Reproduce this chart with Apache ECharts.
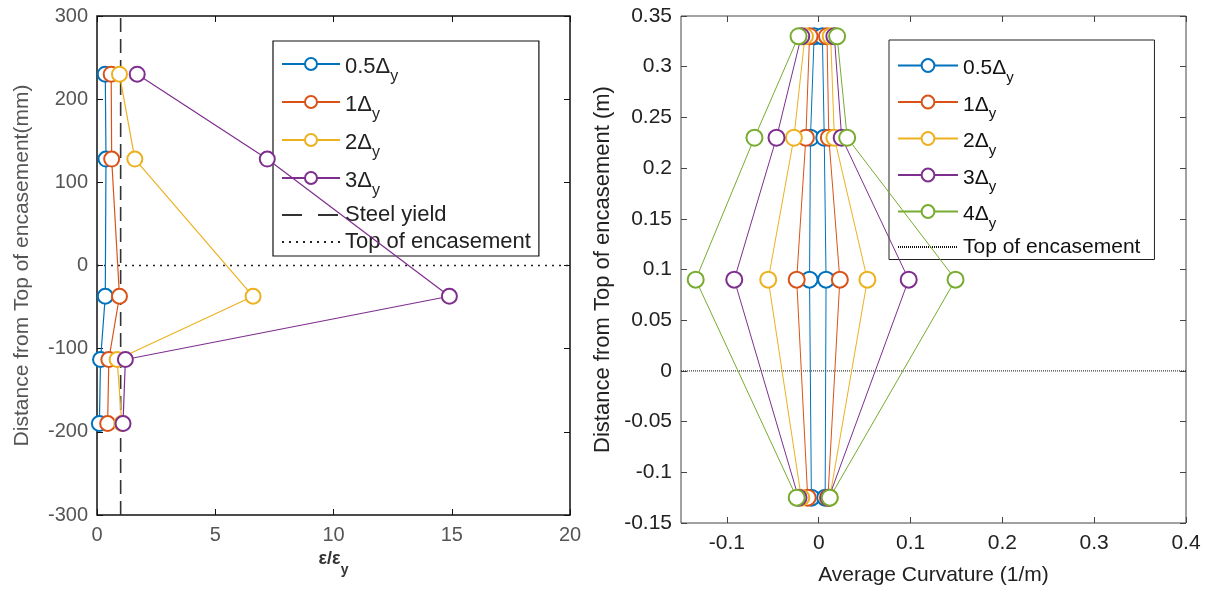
<!DOCTYPE html>
<html>
<head>
<meta charset="utf-8">
<script src="https://cdn.jsdelivr.net/npm/echarts@6/dist/echarts.min.js"></script>
<style>
html,body{margin:0;padding:0;background:#fff;}
#c{width:1205px;height:592px;}
</style>
</head>
<body>
<div id="c"></div>
<script>
// ---------- Left panel data (strain ratio vs depth, mm) ----------
var strainDepth = [230, 128, -37, -113, -190];
var strain05 = [0.35, 0.38, 0.35, 0.15, 0.10];
var strain1  = [0.60, 0.62, 0.95, 0.50, 0.45];
var strain2  = [0.95, 1.60, 6.60, 0.85, 1.05];
var strain3  = [1.70, 7.20, 14.90, 1.20, 1.10];
var leftNames = ['0.5Δy', '1Δy', '2Δy', '3Δy'];
var steelYieldX = 1;
var leftYRange = [-300, 300];
var leftXRange = [0, 20];

// ---------- Right panel data (curvature vs depth, m) ----------
var curvDepth = [0.33, 0.23, 0.09, -0.125];
var c05L = [-0.005, -0.009, -0.010, -0.008], c05R = [0.004, 0.006, 0.008, 0.007];
var c1L  = [-0.010, -0.014, -0.024, -0.012], c1R  = [0.009, 0.011, 0.023, 0.010];
var c2L  = [-0.015, -0.027, -0.055, -0.019], c2R  = [0.013, 0.017, 0.053, 0.012];
var c3L  = [-0.019, -0.046, -0.092, -0.022], c3R  = [0.017, 0.025, 0.098, 0.011];
var c4L  = [-0.022, -0.070, -0.134, -0.024], c4R  = [0.020, 0.031, 0.149, 0.012];
var rightNames = ['0.5Δy', '1Δy', '2Δy', '3Δy', '4Δy'];
var rightXRange = [-0.15, 0.4];
var rightYRange = [-0.15, 0.35];
var rightXTicks = [-0.1, 0, 0.1, 0.2, 0.3, 0.4];
var topLabel = 'Top of encasement';

var colors = ['#0072BD', '#D95319', '#EDB120', '#7E2F8E', '#77AC30'];

function zip(xs, ys) { return xs.map(function (x, i) { return [x, ys[i]]; }); }

var chart = echarts.init(document.getElementById('c'));

var FONT = 'Liberation Sans';
function legendFmt(name) {
  var n = name.replace(/\s+$/, '');
  if (n.slice(-2) === 'Δy') return '{a|' + n.slice(0, -1) + '}{s|y}';
  return '{b|' + n + '}';
}
function legendRich(fs, col) {
  return {
    a: {fontSize: fs, fontFamily: FONT, color: col, lineHeight: fs + 2, padding: [4, 0, 0, 0], verticalAlign: 'top'},
    s: {fontSize: Math.round(fs * 0.72), fontFamily: FONT, color: col, lineHeight: Math.round(fs * 0.75), padding: [Math.round(fs * 0.78), 0, 0, 0], verticalAlign: 'top'},
    b: {fontSize: fs, fontFamily: FONT, color: col, lineHeight: fs + 2}
  };
}

var series = [];
var leftData = [strain05, strain1, strain2, strain3];
leftData.forEach(function (arr, i) {
  series.push({
    type: 'line', name: leftNames[i], xAxisIndex: 0, yAxisIndex: 0,
    data: zip(arr, strainDepth), symbol: 'emptyCircle', symbolSize: 15,
    lineStyle: {color: colors[i], width: 1.2}, itemStyle: {color: colors[i], borderWidth: 1.2},
    color: colors[i], z: 3 + i
  });
});
series.push({
  type: 'line', name: 'Steel yield', xAxisIndex: 0, yAxisIndex: 0,
  data: [[steelYieldX, leftYRange[0]], [steelYieldX, leftYRange[1]]], symbol: 'none',
  lineStyle: {color: '#333', width: 1.6, type: [14, 7]}, color: '#333', z: 2
});
series.push({
  type: 'line', name: topLabel, xAxisIndex: 0, yAxisIndex: 0,
  data: [[leftXRange[0], 0], [leftXRange[1], 0]], symbol: 'none',
  lineStyle: {color: '#222', width: 1.4, type: [2, 5]}, color: '#222', z: 2
});

var rightL = [c05L, c1L, c2L, c3L, c4L];
var rightR = [c05R, c1R, c2R, c3R, c4R];
rightNames.forEach(function (nm, i) {
  [rightL[i], rightR[i]].forEach(function (arr) {
    series.push({
      type: 'line', name: nm + ' ', xAxisIndex: 2, yAxisIndex: 2,
      data: zip(arr, curvDepth), symbol: 'emptyCircle', symbolSize: 16,
      lineStyle: {color: colors[i], width: 1}, itemStyle: {color: colors[i], borderWidth: 1},
      color: colors[i], z: 3 + i
    });
  });
});
series.push({
  type: 'line', name: topLabel + ' ', xAxisIndex: 2, yAxisIndex: 2,
  data: [[rightXRange[0], 0], [rightXRange[1], 0]], symbol: 'none',
  lineStyle: {color: '#111', width: 1, type: [1, 1]}, color: '#111', z: 2
});

var tickL = {inside: true, length: 6, lineStyle: {color: '#111', width: 1}};
var tickR = {inside: true, length: 6, lineStyle: {color: '#444', width: 1}};
var noLine = {show: false, onZero: false};
var hideSym = {opacity: 0};

var option = {
  animation: false,
  backgroundColor: '#fff',
  grid: [
    {left: 97, right: 635, top: 16, bottom: 77, show: true, borderColor: '#111', borderWidth: 1.5, backgroundColor: 'transparent'},
    {left: 681, right: 19, top: 16, bottom: 69, show: true, borderColor: '#444', borderWidth: 1, backgroundColor: 'transparent'}
  ],
  legend: [
    {
      data: leftNames.concat([
        {name: 'Steel yield', itemStyle: hideSym, lineStyle: {type: [20, 16]}},
        {name: topLabel, itemStyle: hideSym}
      ]),
      orient: 'vertical', left: 273, top: 41, padding: [11, 8, 3, 8],
      itemWidth: 58, itemHeight: 15, itemGap: 5,
      backgroundColor: '#fff', borderColor: '#111', borderWidth: 1.2,
      formatter: legendFmt, textStyle: {rich: legendRich(22, '#222'), fontFamily: FONT, fontSize: 22}
    },
    {
      data: rightNames.map(function (n) { return n + ' '; }).concat([{name: topLabel + ' ', itemStyle: hideSym}]),
      orient: 'vertical', left: 889, top: 40, padding: [14, 14, 2, 8],
      itemWidth: 60, itemHeight: 16, itemGap: 5.5,
      backgroundColor: '#fff', borderColor: '#222', borderWidth: 1,
      formatter: legendFmt, textStyle: {rich: legendRich(21, '#111'), fontFamily: FONT, fontSize: 21}
    }
  ],
  xAxis: [
    {
      type: 'value', gridIndex: 0, min: leftXRange[0], max: leftXRange[1], interval: 5, position: 'bottom',
      axisLine: noLine, axisTick: tickL, splitLine: {show: false},
      axisLabel: {fontFamily: FONT, fontSize: 20, color: '#555', margin: 10},
      name: '{e|ε/ε}{s|y}', nameLocation: 'middle', nameGap: 22,
      nameTextStyle: {rich: {
        e: {fontFamily: FONT, fontSize: 18, fontWeight: 'bold', color: '#333', verticalAlign: 'top', lineHeight: 19},
        s: {fontFamily: FONT, fontSize: 14, fontWeight: 'bold', color: '#333', padding: [13, 0, 0, 0], lineHeight: 14, verticalAlign: 'top'}
      }}
    },
    {
      type: 'value', gridIndex: 0, min: leftXRange[0], max: leftXRange[1], interval: 5, position: 'top',
      axisLine: noLine, axisTick: tickL, axisLabel: {show: false}, splitLine: {show: false}
    },
    {
      type: 'value', gridIndex: 1, min: rightXRange[0], max: rightXRange[1], position: 'bottom',
      axisLine: noLine, axisTick: Object.assign({customValues: rightXTicks}, tickR), splitLine: {show: false},
      axisLabel: {customValues: rightXTicks, fontFamily: FONT, fontSize: 21, color: '#222', margin: 10},
      name: 'Average Curvature (1/m)', nameLocation: 'middle', nameGap: 42,
      nameTextStyle: {fontFamily: FONT, fontSize: 21, color: '#222'}
    },
    {
      type: 'value', gridIndex: 1, min: rightXRange[0], max: rightXRange[1], position: 'top',
      axisLine: noLine, axisTick: Object.assign({customValues: rightXTicks}, tickR),
      axisLabel: {show: false, customValues: rightXTicks}, splitLine: {show: false}
    }
  ],
  yAxis: [
    {
      type: 'value', gridIndex: 0, min: leftYRange[0], max: leftYRange[1], interval: 100, position: 'left',
      axisLine: noLine, axisTick: tickL, splitLine: {show: false},
      axisLabel: {fontFamily: FONT, fontSize: 20, color: '#555', margin: 9},
      name: 'Distance from Top of encasement(mm)', nameLocation: 'middle', nameGap: 64,
      nameTextStyle: {fontFamily: FONT, fontSize: 21, color: '#555'}
    },
    {
      type: 'value', gridIndex: 0, min: leftYRange[0], max: leftYRange[1], interval: 100, position: 'right',
      axisLine: noLine, axisTick: tickL, axisLabel: {show: false}, splitLine: {show: false}
    },
    {
      type: 'value', gridIndex: 1, min: rightYRange[0], max: rightYRange[1], interval: 0.05, position: 'left',
      axisLine: noLine, axisTick: tickR, splitLine: {show: false},
      axisLabel: {fontFamily: FONT, fontSize: 21, color: '#222', margin: 9},
      name: 'Distance from Top of encasement (m)', nameLocation: 'middle', nameGap: 67,
      nameTextStyle: {fontFamily: FONT, fontSize: 22, color: '#222'}
    },
    {
      type: 'value', gridIndex: 1, min: rightYRange[0], max: rightYRange[1], interval: 0.05, position: 'right',
      axisLine: noLine, axisTick: tickR, axisLabel: {show: false}, splitLine: {show: false}
    }
  ],
  series: series
};
chart.setOption(option);
</script>
</body>
</html>
